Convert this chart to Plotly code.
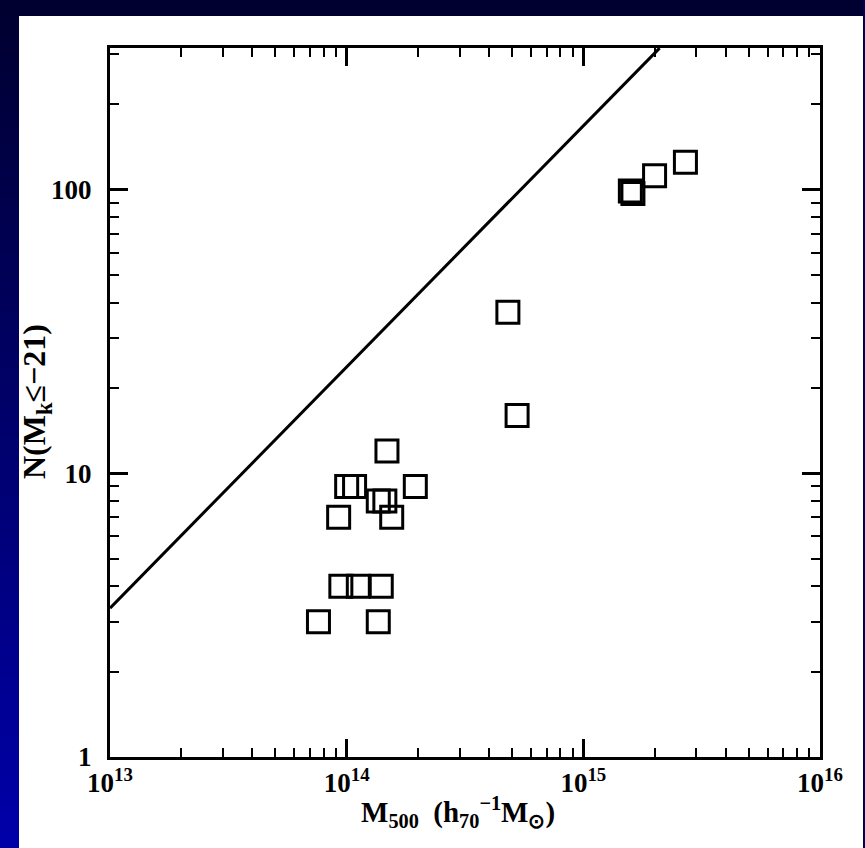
import plotly.graph_objects as go

# Cluster mass M500 and number of bright galaxies N(Mk <= -21)
cluster_mass = [7.6e13, 9.25e13, 9.45e13, 1.0e14, 1.08e14, 1.12e14, 1.36e14, 1.36e14,
                1.40e14, 1.45e14, 1.48e14, 1.55e14, 1.95e14, 4.8e14, 5.25e14,
                1.58e15, 1.62e15, 2.0e15, 2.7e15]
n_galaxies = [3, 7, 4, 9, 9, 4, 8, 3, 4, 8, 12, 7, 9, 37, 16, 99, 97, 112, 125]

# Reference relation drawn as a straight line in log-log space
relation_mass = [1.0e13, 2.1e15]
relation_n = [3.35, 316]

x_tickvals = [1e13, 1e14, 1e15, 1e16]
x_ticktext = ["10<sup>13</sup>", "10<sup>14</sup>", "10<sup>15</sup>", "10<sup>16</sup>"]
y_tickvals = [1, 10, 100]
y_ticktext = ["1", "10", "100"]

W, H = 865, 848
L, R, T, B = 110, 45, 48, 91
PW, PH = W - L - R, H - T - B


def px_to_paper_x(px):
    return (px - L) / PW


def px_to_paper_y(py):
    return (H - B - py) / PH


fig = go.Figure()

fig.add_trace(go.Scatter(
    x=relation_mass, y=relation_n, mode="lines",
    line=dict(color="black", width=3), showlegend=False, hoverinfo="skip",
))
fig.add_trace(go.Scatter(
    x=cluster_mass, y=n_galaxies, mode="markers",
    marker=dict(symbol="square-open", size=22, color="black",
                line=dict(color="black", width=3)),
    showlegend=False,
))

# slide background: dark top strip, blue gradient strip on the left
shapes = []
top_col = (0, 0, 48)
bot_col = (0, 0, 168)
n_steps = 60
for i in range(n_steps):
    f = i / (n_steps - 1)
    c = tuple(int(round(a + (b - a) * f)) for a, b in zip(top_col, bot_col))
    y0 = H * i / n_steps
    y1 = H * (i + 1) / n_steps + 1
    shapes.append(dict(
        type="rect", xref="paper", yref="paper", layer="below",
        x0=px_to_paper_x(0), x1=px_to_paper_x(19),
        y0=px_to_paper_y(y1), y1=px_to_paper_y(y0),
        line=dict(width=0), fillcolor="rgb(%d,%d,%d)" % c,
    ))
shapes.append(dict(
    type="rect", xref="paper", yref="paper", layer="below",
    x0=px_to_paper_x(0), x1=px_to_paper_x(W),
    y0=px_to_paper_y(16), y1=px_to_paper_y(0),
    line=dict(width=0), fillcolor="rgb(0,0,48)",
))
shapes.append(dict(
    type="rect", xref="paper", yref="paper", layer="below",
    x0=px_to_paper_x(863), x1=px_to_paper_x(W),
    y0=px_to_paper_y(H), y1=px_to_paper_y(0),
    line=dict(width=0), fillcolor="rgb(0,0,80)",
))

tick_font = dict(family="Liberation Serif", size=27, color="black", weight="bold")

axis_common = dict(
    type="log", showgrid=False, zeroline=False,
    showline=True, linecolor="black", linewidth=3, mirror="ticks",
    ticks="inside", ticklen=18, tickwidth=2.5, tickcolor="black",
    minor=dict(ticks="inside", ticklen=9, tickwidth=2, tickcolor="black",
               dtick="D1", showgrid=False),
    tickfont=tick_font,
)

fig.update_xaxes(range=[13, 16], tickvals=x_tickvals, ticktext=x_ticktext,
                 ticklabelstandoff=0, **axis_common)
fig.update_yaxes(range=[0, 2.5], tickvals=y_tickvals, ticktext=y_ticktext,
                 ticklabelstandoff=10, **axis_common)

annotations = [
    dict(text="M<sub>500</sub>  (h<sub>70</sub><sup>−1</sup>M<sub>⊙</sub>)",
         xref="paper", yref="paper",
         x=px_to_paper_x(458), y=px_to_paper_y(812),
         showarrow=False, xanchor="center", yanchor="middle",
         font=dict(family="Liberation Serif", size=29, color="black", weight="bold")),
    dict(text="N(M<sub>k</sub>≤−21)",
         xref="paper", yref="paper",
         x=px_to_paper_x(36), y=px_to_paper_y(402),
         showarrow=False, xanchor="center", yanchor="middle", textangle=-90,
         font=dict(family="Liberation Serif", size=32, color="black", weight="bold")),
]

fig.update_layout(
    width=W, height=H,
    margin=dict(l=L, r=R, t=T, b=B, autoexpand=False),
    paper_bgcolor="white", plot_bgcolor="white",
    shapes=shapes, annotations=annotations,
)

fig.write_html("out.html")
